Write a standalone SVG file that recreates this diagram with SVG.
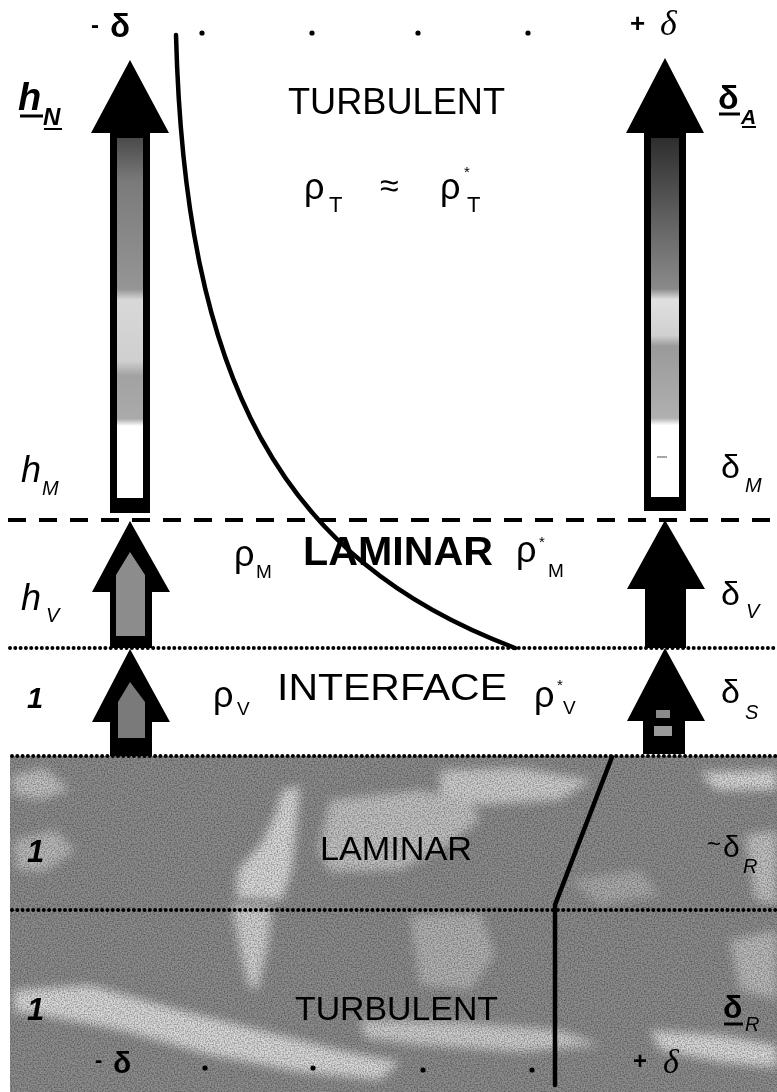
<svg xmlns="http://www.w3.org/2000/svg" width="777" height="1092" viewBox="0 0 777 1092">
<style>
.t{font-family:"Liberation Sans",Arial,sans-serif;fill:#000}
.b{font-weight:bold}
.i{font-style:italic}
.serif{font-family:"Liberation Serif","Times New Roman",serif;font-style:italic}
.dash{stroke:#000;stroke-width:4;stroke-dasharray:18 13;fill:none}
.dot{stroke:#000;stroke-width:4;stroke-dasharray:0 5.3;stroke-linecap:round;fill:none}
.curve{stroke:#000;stroke-width:4.5;fill:none;stroke-linecap:round}
.arrow{fill:#000}
.ul{stroke:#000;stroke-width:3}
.blob{fill:#f4f4f4}
</style>
<defs>
<linearGradient id="gL" gradientUnits="userSpaceOnUse" x1="0" y1="138" x2="0" y2="498">
<stop offset="0" stop-color="#4a4a4a"/>
<stop offset="0.12" stop-color="#7a7a7a"/>
<stop offset="0.42" stop-color="#959595"/>
<stop offset="0.45" stop-color="#d8d8d8"/>
<stop offset="0.62" stop-color="#cfcfcf"/>
<stop offset="0.66" stop-color="#a2a2a2"/>
<stop offset="0.78" stop-color="#aaaaaa"/>
<stop offset="0.8" stop-color="#ffffff"/>
<stop offset="1" stop-color="#ffffff"/>
</linearGradient>
<linearGradient id="gR" gradientUnits="userSpaceOnUse" x1="0" y1="138" x2="0" y2="497">
<stop offset="0" stop-color="#2e2e2e"/>
<stop offset="0.25" stop-color="#666666"/>
<stop offset="0.42" stop-color="#8a8a8a"/>
<stop offset="0.45" stop-color="#e0e0e0"/>
<stop offset="0.55" stop-color="#d0d0d0"/>
<stop offset="0.58" stop-color="#9a9a9a"/>
<stop offset="0.78" stop-color="#b0b0b0"/>
<stop offset="0.8" stop-color="#ffffff"/>
<stop offset="1" stop-color="#ffffff"/>
</linearGradient>
<filter id="soft" x="-20%" y="-20%" width="140%" height="140%"><feGaussianBlur stdDeviation="5"/></filter>
<filter id="grain" x="0" y="0" width="100%" height="100%">
<feTurbulence type="fractalNoise" baseFrequency="0.7" numOctaves="1" seed="3" result="n"/>
<feColorMatrix in="n" type="matrix" values="0 0 0 0 0  0 0 0 0 0  0 0 0 0 0  0 0 0 -1.2 0.75"/>
<feComposite in2="SourceGraphic" operator="in"/>
</filter>
</defs>

<rect x="0" y="0" width="777" height="1092" fill="#fff"/>

<g id="base-region">
<rect x="10" y="756" width="767" height="336" fill="#8d8d8d"/>
<g filter="url(#soft)" opacity="0.75">
<path class="blob" d="M12,775 L45,768 L70,790 L40,800 L14,795 Z" opacity="0.7"/>
<path class="blob" d="M14,840 L55,830 L75,850 L45,872 L16,870 Z" opacity="0.6"/>
<path class="blob" d="M282,790 L300,786 L296,830 L292,870 L282,900 L236,898 L238,870 L262,842 L276,812 Z"/>
<path class="blob" d="M232,905 L272,908 L268,945 L258,990 L248,985 L240,950 Z" opacity="0.9"/>
<path class="blob" d="M330,800 L420,790 L470,800 L480,820 L440,850 L400,870 L330,872 L318,850 Z" opacity="0.7"/>
<path class="blob" d="M440,770 L520,768 L592,780 L560,800 L480,805 L440,795 Z" opacity="0.85"/>
<path class="blob" d="M700,772 L777,770 L777,790 L715,790 Z"/>
<path class="blob" d="M745,835 L777,830 L777,905 L755,900 Z" opacity="0.7"/>
<path class="blob" d="M410,915 L480,912 L495,955 L470,990 L420,985 Z" opacity="0.5"/>
<path class="blob" d="M14,990 L90,985 L180,1010 L260,1030 L340,1050 L400,1062 L380,1080 L300,1072 L210,1055 L120,1030 L40,1015 L14,1012 Z"/>
<path class="blob" d="M360,1020 L460,1022 L560,1030 L600,1045 L520,1052 L420,1045 L365,1038 Z" opacity="0.85"/>
<path class="blob" d="M650,1030 L720,1035 L777,1045 L777,1068 L720,1062 L660,1050 Z"/>
<path class="blob" d="M730,940 L777,930 L777,1000 L740,990 Z" opacity="0.6"/>
<path class="blob" d="M570,880 L640,870 L660,895 L600,905 Z" opacity="0.4"/>
</g>
<rect x="10" y="756" width="767" height="336" fill="#7d7d7d" filter="url(#grain)" opacity="0.7"/>
</g>

<g id="connectors">
<line class="dash" x1="8" y1="520" x2="777" y2="520"/>
<line class="dot" x1="10" y1="648" x2="777" y2="648"/>
<line class="dot" x1="12" y1="756" x2="777" y2="756"/>
<line class="dot" x1="12" y1="910" x2="777" y2="910"/>
<path class="curve" d="M176,35 C185,380 280,560 515,648"/>
<path class="curve" d="M612,757 L555,905 L555,1085"/>
</g>

<g id="arrow-left-top">
<polygon class="arrow" points="130,60 91,133 110,133 110,513 150,513 150,133 169,133"/>
<rect x="117" y="138" width="26" height="360" fill="url(#gL)"/>
</g>
<g id="arrow-left-laminar">
<polygon class="arrow" points="130,521 92,592 110,592 110,648 152,648 152,592 170,592"/>
<polygon points="130,552 116,575 116,636 145,636 145,575" fill="#8c8c8c"/>
</g>
<g id="arrow-left-interface">
<polygon class="arrow" points="130,649 92,722 110,722 110,756 152,756 152,722 170,722"/>
<polygon points="130,682 118,702 118,738 145,738 145,702" fill="#7a7a7a"/>
</g>

<g id="arrow-right-top">
<polygon class="arrow" points="665,58 626,133 644,133 644,511 686,511 686,133 704,133"/>
<rect x="651" y="138" width="28" height="359" fill="url(#gR)"/>
<line x1="657" y1="457" x2="667" y2="457" stroke="#888" stroke-width="1.5"/>
</g>
<g id="arrow-right-laminar">
<polygon class="arrow" points="665,520 627,589 645,589 645,648 686,648 686,589 705,589"/>
</g>
<g id="arrow-right-interface">
<polygon class="arrow" points="665,648 627,721 643,721 643,754 685,754 685,721 705,721"/>
<rect x="656" y="710" width="14" height="8" fill="#8a8a8a"/>
<rect x="654" y="726" width="18" height="10" fill="#9a9a9a"/>
</g>

<g id="top-labels">
<text class="t b" x="91" y="33" font-size="24">-</text>
<text class="t b" x="110" y="37" font-size="33">δ</text>
<circle cx="202" cy="33" r="2.6"/>
<circle cx="312" cy="33" r="2.6"/>
<circle cx="418" cy="33" r="2.6"/>
<circle cx="528" cy="33" r="2.6"/>
<text class="t b" x="630" y="32" font-size="26">+</text>
<text class="serif" x="660" y="35" font-size="36">δ</text>
</g>

<g id="label-hN">
<text class="t b i" x="18" y="110" font-size="38">h</text>
<line class="ul" x1="20" y1="116" x2="43" y2="116"/>
<text class="t b i" x="43" y="125" font-size="24">N</text>
<line x1="44" y1="129" x2="62" y2="129" stroke="#000" stroke-width="2"/>
</g>
<g id="label-dA">
<text class="t b" x="718" y="109" font-size="34">δ</text>
<line class="ul" x1="719" y1="114" x2="740" y2="114"/>
<text class="t b i" x="741" y="124" font-size="21">A</text>
<line x1="742" y1="127" x2="756" y2="127" stroke="#000" stroke-width="2"/>
</g>

<g id="turbulent-top">
<text class="t" x="288" y="114" font-size="36" textLength="217" lengthAdjust="spacingAndGlyphs">TURBULENT</text>
<text class="t" x="304" y="199" font-size="36">ρ</text>
<text class="t" x="329" y="212" font-size="22">T</text>
<text class="t" x="380" y="197" font-size="34">≈</text>
<text class="t" x="440" y="199" font-size="36">ρ</text>
<text class="t" x="464" y="177" font-size="15">*</text>
<text class="t" x="467" y="212" font-size="22">T</text>
</g>

<g id="label-hM">
<text class="t i" x="21" y="482" font-size="36">h</text>
<text class="t i" x="42" y="495" font-size="20">M</text>
</g>
<g id="label-dM">
<text class="t" x="721" y="478" font-size="34">δ</text>
<text class="t i" x="745" y="492" font-size="20">M</text>
</g>

<g id="laminar-mid">
<text class="t" x="234" y="566" font-size="36">ρ</text>
<text class="t" x="256" y="578" font-size="19">M</text>
<text class="t b" x="303" y="565" font-size="41" textLength="190" lengthAdjust="spacingAndGlyphs">LAMINAR</text>
<text class="t" x="516" y="562" font-size="36">ρ</text>
<text class="t" x="539" y="547" font-size="15">*</text>
<text class="t" x="548" y="577" font-size="19">M</text>
</g>

<g id="label-hV">
<text class="t i" x="21" y="610" font-size="36">h</text>
<text class="t i" x="46" y="622" font-size="20">V</text>
</g>
<g id="label-dV">
<text class="t" x="721" y="605" font-size="34">δ</text>
<text class="t i" x="746" y="618" font-size="20">V</text>
</g>

<g id="interface-row">
<text class="t i b" x="27" y="708" font-size="29">1</text>
<text class="t" x="213" y="707" font-size="36">ρ</text>
<text class="t" x="237" y="715" font-size="19">V</text>
<text class="t" x="277" y="700" font-size="37" textLength="230" lengthAdjust="spacingAndGlyphs">INTERFACE</text>
<text class="t" x="534" y="707" font-size="36">ρ</text>
<text class="t" x="557" y="690" font-size="15">*</text>
<text class="t" x="563" y="714" font-size="19">V</text>
<text class="t" x="721" y="703" font-size="34">δ</text>
<text class="t i" x="745" y="719" font-size="20">S</text>
</g>

<g id="bottom-labels">
<text class="t i b" x="27" y="862" font-size="31">1</text>
<text class="t" x="320" y="860" font-size="34" textLength="152" lengthAdjust="spacingAndGlyphs">LAMINAR</text>
<text class="t" x="707" y="852" font-size="24">~</text>
<text class="t" x="723" y="857" font-size="30">δ</text>
<text class="t i" x="743" y="873" font-size="20">R</text>

<text class="t i b" x="27" y="1020" font-size="31">1</text>
<text class="t" x="295" y="1020" font-size="34" textLength="203" lengthAdjust="spacingAndGlyphs">TURBULENT</text>
<text class="t b" x="723" y="1018" font-size="32">δ</text>
<line class="ul" x1="724" y1="1024" x2="743" y2="1024"/>
<text class="t i" x="745" y="1031" font-size="20">R</text>

<text class="t b" x="95" y="1067" font-size="22">-</text>
<text class="t b" x="113" y="1073" font-size="30">δ</text>
<circle cx="205" cy="1068" r="2.6"/>
<circle cx="313" cy="1068" r="2.6"/>
<circle cx="423" cy="1070" r="2.6"/>
<circle cx="532" cy="1070" r="2.6"/>
<text class="t b" x="633" y="1069" font-size="24">+</text>
<text class="serif" x="663" y="1073" font-size="34">δ</text>
</g>
</svg>
